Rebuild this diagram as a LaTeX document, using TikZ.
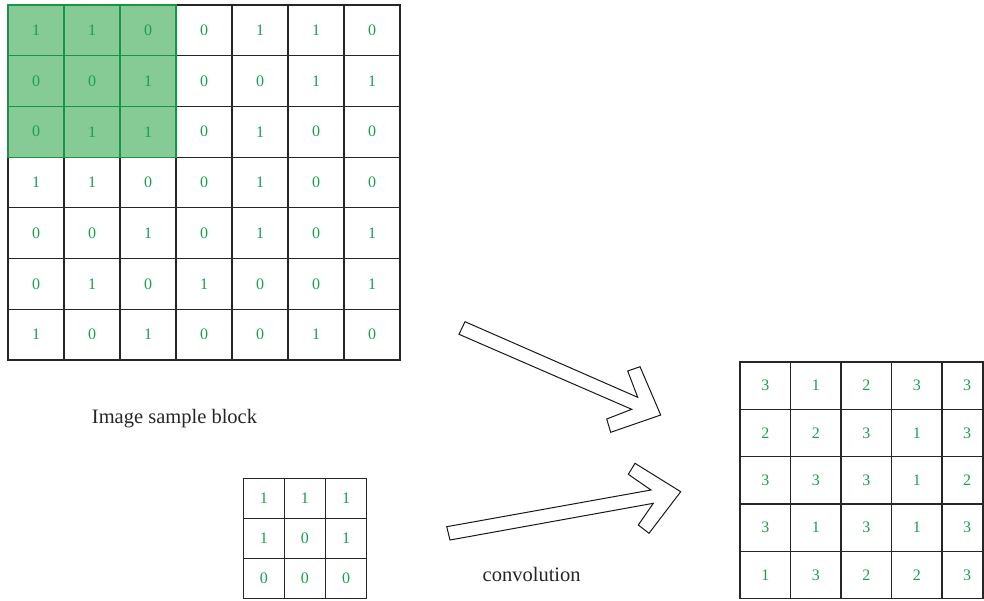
\documentclass[tikz,border=0pt]{standalone}
\usepackage{fontspec}
\setmainfont{Liberation Serif}
\definecolor{numgreen}{RGB}{22,160,80}
\definecolor{shade}{RGB}{134,202,150}
\definecolor{shadeline}{RGB}{22,150,70}
\begin{document}
\begin{tikzpicture}[x=1pt,y=-1pt,
  cellbox/.style={draw=black!85,line width=1.2pt,inner sep=0pt,outer sep=0pt,text=numgreen,font=\fontsize{16}{16}\selectfont},
  bigcell/.style={cellbox,minimum width=56pt,minimum height=50.7pt},
  plaincell/.style={},
  shadecell/.style={fill=shade,draw=shadeline},
  kercell/.style={cellbox,minimum width=41.1pt,minimum height=40pt},
  outcell/.style={cellbox,minimum width=50.5pt,minimum height=47.3pt},
  lastcell/.style={cellbox,minimum width=41pt,minimum height=47.3pt},
  lbl/.style={font=\fontsize{20.5}{22}\selectfont,text=black!85,inner sep=0pt},
  blockarrow/.style={draw=black!90,line width=1pt,fill=white,line join=miter}
]
\useasboundingbox (0,0) rectangle (984,600);
% image sample block
\foreach \row [count=\r from 0] in {{1,1,0,0,1,1,0},{0,0,1,0,0,1,1},{0,1,1,0,1,0,0},{1,1,0,0,1,0,0},{0,0,1,0,1,0,1},{0,1,0,1,0,0,1},{1,0,1,0,0,1,0}}{
  \foreach \v [count=\c from 0] in \row {
    \ifnum\r<3 \ifnum\c<3 \def\st{shadecell}\else\def\st{plaincell}\fi\else\def\st{plaincell}\fi
    \node[bigcell,\st] (b-\r-\c) at ({8+56*\c+28},{5+50.7*\r+25.35}) {\v};
  }
}
\foreach \r in {0,1,2}{\foreach \c in {0,1,2}{
  \draw[shadeline,line width=1.2pt] (b-\r-\c.north west) rectangle (b-\r-\c.south east);
}}
% kernel
\foreach \row [count=\r from 0] in {{1,1,1},{1,0,1},{0,0,0}}{
  \foreach \v [count=\c from 0] in \row {
    \node[kercell] (k-\r-\c) at ({243.3+41.1*\c+20.55},{478.3+40*\r+20}) {\v};
  }
}
% output
\foreach \row [count=\r from 0] in {{3,1,2,3,3},{2,2,3,1,3},{3,3,3,1,2},{3,1,3,1,3},{1,3,2,2,3}}{
  \foreach \v [count=\c from 0] in \row {
    \ifnum\c<4
      \node[outcell] (o-\r-\c) at ({740+50.5*\c+25.25},{362+47.3*\r+23.65}) {\v};
    \else
      \node[lastcell] (o-\r-\c) at (962.5,{362+47.3*\r+23.65}) {\hspace*{9pt}\v};
    \fi
  }
}
% labels
\node[lbl,anchor=base] (lab1) at (174.5,423) {Image sample block};
\node[lbl,anchor=base] (lab2) at (531.7,581.7) {convolution};
% block arrows
\draw[blockarrow] (465,321.7) -- (637.7,397.3) -- (627.7,371) -- (640,366.7) -- (660.7,415) -- (610.7,432.3) -- (606.7,419) -- (631.7,409.3) -- (459,334.3) -- cycle;
\draw[blockarrow] (446.7,526.7) -- (651,490) -- (628.3,474.3) -- (635,463.3) -- (680.7,491.7) -- (649,533.3) -- (638.3,525) -- (653.3,503.3) -- (450,540) -- cycle;
\end{tikzpicture}
\end{document}
